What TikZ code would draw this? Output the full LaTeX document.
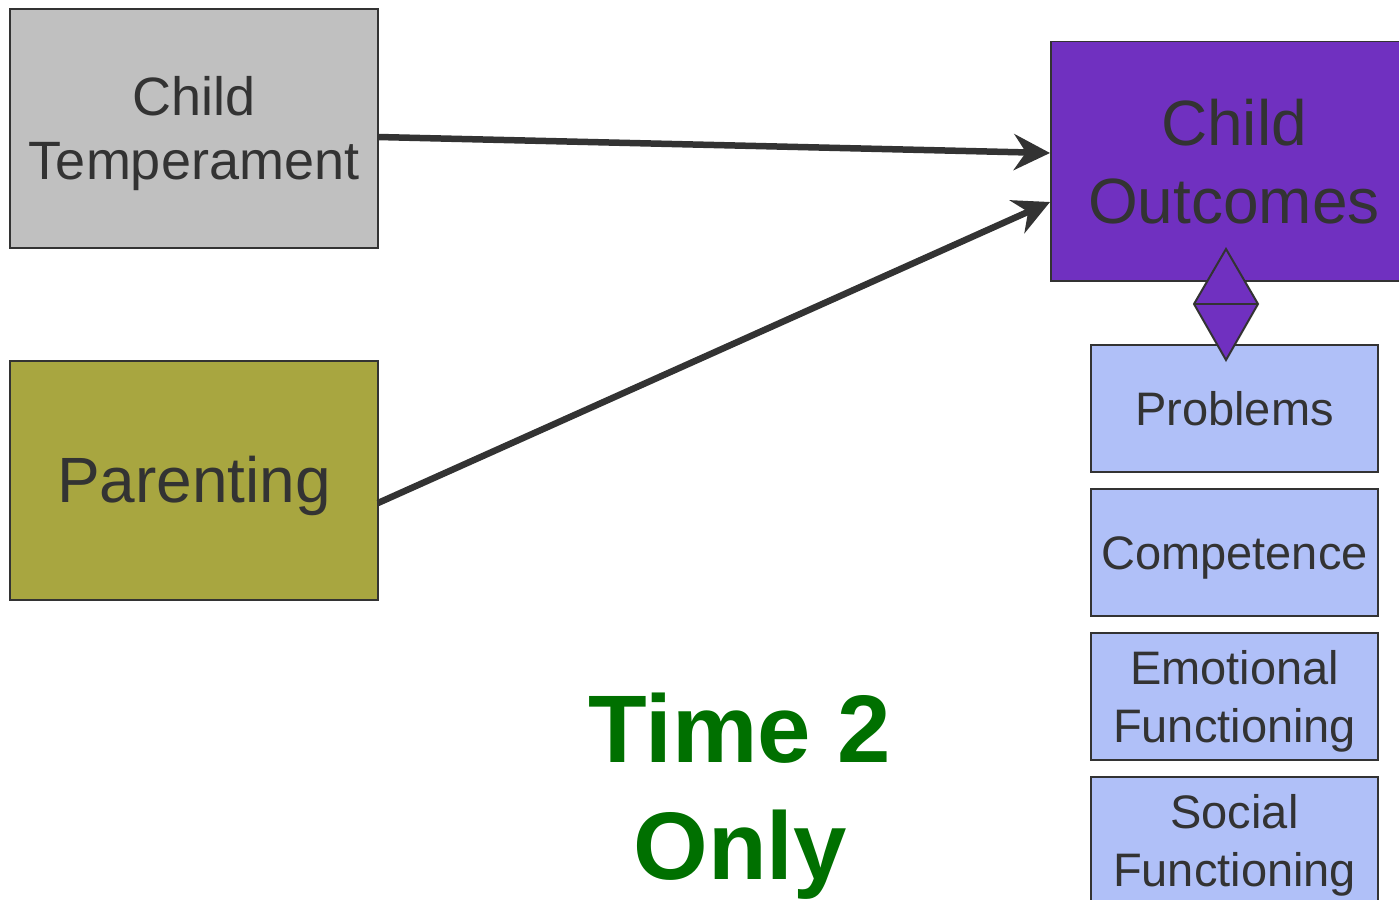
\documentclass[tikz,border=0pt]{standalone}
\usepackage{fontspec}
\setmainfont{Liberation Sans}
\usetikzlibrary{arrows.meta}
\definecolor{txt}{HTML}{333333}
\definecolor{tempfill}{HTML}{C0C0C0}
\definecolor{parfill}{HTML}{A8A640}
\definecolor{outfill}{HTML}{7030C0}
\definecolor{subfill}{HTML}{B0C0F8}
\definecolor{timegreen}{HTML}{007000}
\begin{document}
\begin{tikzpicture}[x=1pt,y=-1pt,
  box/.style={draw=txt,line width=1.5pt,text=txt,align=center,inner sep=0pt},
  conn/.style={draw=txt,line width=6.5pt,-{Stealth[length=36pt,width=36pt,inset=12pt]}}]
\useasboundingbox (0,0) rectangle (1399,899);
\begin{scope}
\clip (0,0) rectangle (1399,899);
\node[box,fill=tempfill,minimum width=368pt,minimum height=239pt] (temp) at (194,128.5) {};
\node[text=txt,align=center,font=\fontsize{54}{64}\selectfont] (temptxt) at (194,134) {Child\\Temperament};
\node[box,fill=parfill,minimum width=368pt,minimum height=239pt] (par) at (194,480.5) {};
\node[text=txt,font=\fontsize{64}{78}\selectfont] (partxt) at (194,486) {Parenting};
\node[box,fill=outfill,minimum width=352pt,minimum height=239pt,anchor=north west] (out) at (1050,41) {};
\node[text=txt,align=center,font=\fontsize{64}{78}\selectfont] (outtxt) at (1234,162) {Child\\Outcomes};
\node[box,fill=subfill,minimum width=287pt,minimum height=127pt,font=\fontsize{47}{58}\selectfont] (prob) at (1234.5,408.5) {Problems};
\node[box,fill=subfill,minimum width=287pt,minimum height=127pt] (comp) at (1234.5,552.5) {};
\node[text=txt,font=\fontsize{47}{58}\selectfont] (comptxt) at (1234.5,557.5) {Competence};
\node[box,fill=subfill,minimum width=287pt,minimum height=127pt] (emo) at (1234.5,696.5) {};
\node[text=txt,align=center,font=\fontsize{47}{58}\selectfont] (emotxt) at (1234.5,701.5) {Emotional\\Functioning};
\node[box,fill=subfill,minimum width=287pt,minimum height=127pt] (soc) at (1234.5,840.5) {};
\node[text=txt,align=center,font=\fontsize{47}{58}\selectfont] (soctxt) at (1234.5,845) {Social\\Functioning};
\coordinate (dtop) at (1226,249);
\coordinate (dl) at (1194,304);
\coordinate (dr) at (1258,304);
\coordinate (dbot) at (1226,360);
\filldraw[fill=outfill,draw=txt,line width=2pt,line join=miter] (dtop) -- (dr) -- (dbot) -- (dl) -- cycle;
\draw[txt,line width=2pt] (dl) -- (dr);
\coordinate (a1s) at (378,137);
\coordinate (a1e) at (1050,153);
\coordinate (a2s) at (378,503);
\coordinate (a2e) at (1050,202);
\draw[conn] (a1s) -- (a1e);
\draw[conn] (a2s) -- (a2e);
\node[text=timegreen,align=center,font=\fontsize{96}{117}\bfseries\selectfont] (time) at (740,796) {Time 2\\Only};
\end{scope}
\end{tikzpicture}
\end{document}
